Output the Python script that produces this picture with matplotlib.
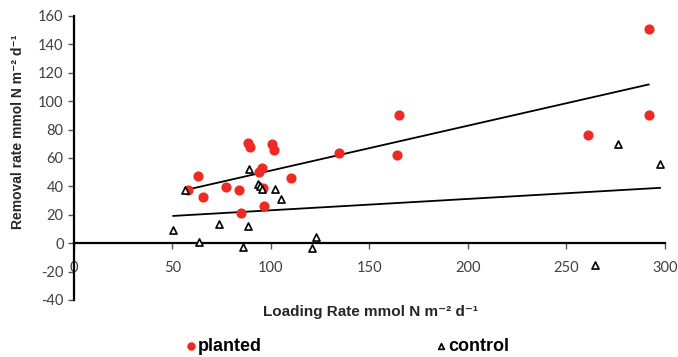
import numpy as np
import matplotlib
matplotlib.use("Agg")
from matplotlib import pyplot as plt

plt.rcParams["axes.unicode_minus"] = False

# planted wetlands: loading rate vs removal rate
planted_x = [57.7, 63.0, 65.6, 77.3, 84.0, 85.0, 88.3, 89.3, 93.7, 95.6, 95.8,
             96.4, 100.3, 101.4, 110.0, 134.7, 163.8, 164.8, 261.0, 291.7, 291.7]
planted_y = [37.5, 47.4, 32.4, 39.5, 37.3, 21.4, 70.4, 67.6, 49.8, 52.6, 39.0,
             26.3, 70.0, 65.7, 46.2, 63.4, 62.2, 90.0, 76.3, 90.0, 150.8]

# control (unplanted)
control_x = [50.4, 56.2, 63.6, 73.4, 86.0, 88.5, 88.8, 93.5, 94.4, 95.3, 102.0,
             104.9, 120.8, 123.0, 264.3, 276.3, 297.5]
control_y = [9.4, 37.6, 0.9, 13.6, -2.8, 12.0, 52.4, 42.0, 40.2, 38.5, 38.0,
             31.0, -3.3, 4.6, -15.3, 69.8, 55.7]

xticks = [0, 50, 100, 150, 200, 250, 300]
yticks = [-40, -20, 0, 20, 40, 60, 80, 100, 120, 140, 160]

red = "#ED2B24"
tick_col = "#404040"
label_font = ["Liberation Sans", "DejaVu Sans"]

fig = plt.figure(figsize=(6.78, 3.57), dpi=100)
ax = fig.add_axes([0.1091, 0.1597, 0.8717, 0.7955])

ax.scatter(planted_x, planted_y, s=40, color=red, zorder=3, label="planted")
ax.scatter(control_x, control_y, s=26, marker="^", facecolor="white",
           edgecolor="black", linewidth=1.2, zorder=4, label="control")

# linear trend lines over each series' range
for xs, ys in [(planted_x, planted_y), (control_x, control_y)]:
    k, b = np.polyfit(xs, ys, 1)
    xx = np.array([min(xs), max(xs)])
    ax.plot(xx, k * xx + b, color="black", linewidth=1.3, zorder=2)

ax.set_xlim(0, 300)
ax.set_ylim(-40, 160)
ax.set_xticks(xticks)
ax.set_yticks(yticks)

ax.spines["top"].set_visible(False)
ax.spines["right"].set_visible(False)
ax.spines["bottom"].set_position(("data", 0))
ax.spines["left"].set_linewidth(1.6)
ax.spines["bottom"].set_linewidth(1.6)
ax.tick_params(axis="both", direction="out", length=4, width=1,
               labelsize=10.5, labelcolor=tick_col, color="#555555")
ax.tick_params(axis="x", pad=9)
for lbl in ax.get_xticklabels() + ax.get_yticklabels():
    lbl.set_fontfamily("Lato")

fig.text(0.026, 0.63, "Removal rate mmol N m⁻² d⁻¹", rotation=90,
         ha="center", va="center", fontsize=10, fontweight="bold",
         color="#262626", family=label_font)
fig.text(0.546, 0.126, "Loading Rate mmol N m⁻² d⁻¹",
         ha="center", va="center", fontsize=11, fontweight="bold",
         color="#262626", family=label_font)

fig.legend(loc="center", bbox_to_anchor=(0.512, 0.03), ncol=2, frameon=False,
           prop={"weight": "bold", "size": 13, "family": label_font},
           handletextpad=0.1, columnspacing=9.6, handlelength=0.6,
           markerscale=0.8)

fig.savefig("out.png", dpi=100)
